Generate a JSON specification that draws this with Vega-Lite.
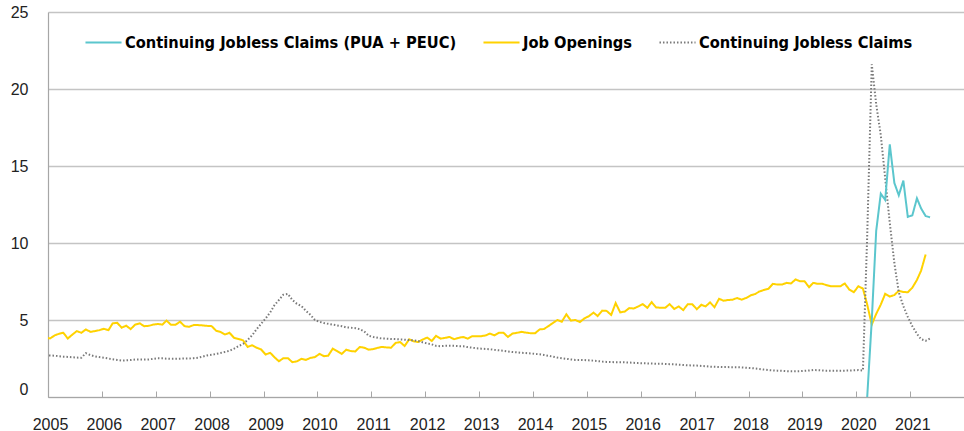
{
"$schema": "https://vega.github.io/schema/vega-lite/v6.json",
"width": 916, "height": 385,
"autosize": {"type": "none"},
"padding": {"left": 48, "top": 12, "right": 0, "bottom": 34},
"background": "white",
"config": {
  "view": {"stroke": null},
  "font": "Liberation Sans",
  "legend": {"orient": "none", "legendX": 36, "legendY": 11, "direction": "horizontal", "symbolType": "stroke", "symbolSize": 1300, "labelFont": "DejaVu Sans Condensed", "labelFontSize": 16.3, "labelFontWeight": "bold", "labelColor": "#000", "columnPadding": 22, "labelOffset": 2, "labelLimit": 0}
},
"data": {"values": [
{"date":"2004-12-15","Job Openings":3.86,"Continuing Jobless Claims":2.7},
{"date":"2005-01-15","Job Openings":3.8,"Continuing Jobless Claims":2.7},
{"date":"2005-02-15","Job Openings":4.0,"Continuing Jobless Claims":2.68},
{"date":"2005-03-15","Job Openings":4.1,"Continuing Jobless Claims":2.65},
{"date":"2005-04-15","Job Openings":4.17,"Continuing Jobless Claims":2.62},
{"date":"2005-05-15","Job Openings":3.8,"Continuing Jobless Claims":2.6},
{"date":"2005-06-15","Job Openings":4.05,"Continuing Jobless Claims":2.58},
{"date":"2005-07-15","Job Openings":4.28,"Continuing Jobless Claims":2.56},
{"date":"2005-08-15","Job Openings":4.17,"Continuing Jobless Claims":2.55},
{"date":"2005-09-15","Job Openings":4.39,"Continuing Jobless Claims":2.85},
{"date":"2005-10-15","Job Openings":4.23,"Continuing Jobless Claims":2.72},
{"date":"2005-11-15","Job Openings":4.28,"Continuing Jobless Claims":2.64},
{"date":"2005-12-15","Job Openings":4.34,"Continuing Jobless Claims":2.59},
{"date":"2006-01-15","Job Openings":4.43,"Continuing Jobless Claims":2.55},
{"date":"2006-02-15","Job Openings":4.34,"Continuing Jobless Claims":2.5},
{"date":"2006-03-15","Job Openings":4.78,"Continuing Jobless Claims":2.45},
{"date":"2006-04-15","Job Openings":4.82,"Continuing Jobless Claims":2.41},
{"date":"2006-05-15","Job Openings":4.5,"Continuing Jobless Claims":2.37},
{"date":"2006-06-15","Job Openings":4.63,"Continuing Jobless Claims":2.38},
{"date":"2006-07-15","Job Openings":4.41,"Continuing Jobless Claims":2.4},
{"date":"2006-08-15","Job Openings":4.7,"Continuing Jobless Claims":2.43},
{"date":"2006-09-15","Job Openings":4.78,"Continuing Jobless Claims":2.43},
{"date":"2006-10-15","Job Openings":4.6,"Continuing Jobless Claims":2.43},
{"date":"2006-11-15","Job Openings":4.62,"Continuing Jobless Claims":2.44},
{"date":"2006-12-15","Job Openings":4.7,"Continuing Jobless Claims":2.48},
{"date":"2007-01-15","Job Openings":4.74,"Continuing Jobless Claims":2.52},
{"date":"2007-02-15","Job Openings":4.7,"Continuing Jobless Claims":2.51},
{"date":"2007-03-15","Job Openings":4.96,"Continuing Jobless Claims":2.49},
{"date":"2007-04-15","Job Openings":4.69,"Continuing Jobless Claims":2.48},
{"date":"2007-05-15","Job Openings":4.69,"Continuing Jobless Claims":2.48},
{"date":"2007-06-15","Job Openings":4.89,"Continuing Jobless Claims":2.49},
{"date":"2007-07-15","Job Openings":4.6,"Continuing Jobless Claims":2.5},
{"date":"2007-08-15","Job Openings":4.56,"Continuing Jobless Claims":2.5},
{"date":"2007-09-15","Job Openings":4.67,"Continuing Jobless Claims":2.52},
{"date":"2007-10-15","Job Openings":4.67,"Continuing Jobless Claims":2.55},
{"date":"2007-11-15","Job Openings":4.65,"Continuing Jobless Claims":2.62},
{"date":"2007-12-15","Job Openings":4.62,"Continuing Jobless Claims":2.7},
{"date":"2008-01-15","Job Openings":4.6,"Continuing Jobless Claims":2.74},
{"date":"2008-02-15","Job Openings":4.3,"Continuing Jobless Claims":2.8},
{"date":"2008-03-15","Job Openings":4.23,"Continuing Jobless Claims":2.86},
{"date":"2008-04-15","Job Openings":4.06,"Continuing Jobless Claims":2.93},
{"date":"2008-05-15","Job Openings":4.17,"Continuing Jobless Claims":3.0},
{"date":"2008-06-15","Job Openings":3.84,"Continuing Jobless Claims":3.14},
{"date":"2008-07-15","Job Openings":3.77,"Continuing Jobless Claims":3.3},
{"date":"2008-08-15","Job Openings":3.68,"Continuing Jobless Claims":3.45},
{"date":"2008-09-15","Job Openings":3.25,"Continuing Jobless Claims":3.7},
{"date":"2008-10-15","Job Openings":3.36,"Continuing Jobless Claims":4.0},
{"date":"2008-11-15","Job Openings":3.2,"Continuing Jobless Claims":4.4},
{"date":"2008-12-15","Job Openings":3.09,"Continuing Jobless Claims":4.75},
{"date":"2009-01-15","Job Openings":2.76,"Continuing Jobless Claims":5.1},
{"date":"2009-02-15","Job Openings":2.87,"Continuing Jobless Claims":5.5},
{"date":"2009-03-15","Job Openings":2.59,"Continuing Jobless Claims":5.95},
{"date":"2009-04-15","Job Openings":2.32,"Continuing Jobless Claims":6.3},
{"date":"2009-05-15","Job Openings":2.52,"Continuing Jobless Claims":6.64},
{"date":"2009-06-15","Job Openings":2.52,"Continuing Jobless Claims":6.69},
{"date":"2009-07-15","Job Openings":2.26,"Continuing Jobless Claims":6.3},
{"date":"2009-08-15","Job Openings":2.32,"Continuing Jobless Claims":6.05},
{"date":"2009-09-15","Job Openings":2.48,"Continuing Jobless Claims":5.9},
{"date":"2009-10-15","Job Openings":2.41,"Continuing Jobless Claims":5.6},
{"date":"2009-11-15","Job Openings":2.54,"Continuing Jobless Claims":5.33},
{"date":"2009-12-15","Job Openings":2.59,"Continuing Jobless Claims":5.0},
{"date":"2010-01-15","Job Openings":2.8,"Continuing Jobless Claims":4.88},
{"date":"2010-02-15","Job Openings":2.65,"Continuing Jobless Claims":4.8},
{"date":"2010-03-15","Job Openings":2.68,"Continuing Jobless Claims":4.75},
{"date":"2010-04-15","Job Openings":3.14,"Continuing Jobless Claims":4.7},
{"date":"2010-05-15","Job Openings":2.98,"Continuing Jobless Claims":4.65},
{"date":"2010-06-15","Job Openings":2.8,"Continuing Jobless Claims":4.6},
{"date":"2010-07-15","Job Openings":3.07,"Continuing Jobless Claims":4.52},
{"date":"2010-08-15","Job Openings":2.98,"Continuing Jobless Claims":4.5},
{"date":"2010-09-15","Job Openings":2.96,"Continuing Jobless Claims":4.47},
{"date":"2010-10-15","Job Openings":3.25,"Continuing Jobless Claims":4.4},
{"date":"2010-11-15","Job Openings":3.2,"Continuing Jobless Claims":4.25},
{"date":"2010-12-15","Job Openings":3.07,"Continuing Jobless Claims":3.97},
{"date":"2011-01-15","Job Openings":3.11,"Continuing Jobless Claims":3.9},
{"date":"2011-02-15","Job Openings":3.2,"Continuing Jobless Claims":3.84},
{"date":"2011-03-15","Job Openings":3.25,"Continuing Jobless Claims":3.8},
{"date":"2011-04-15","Job Openings":3.22,"Continuing Jobless Claims":3.79},
{"date":"2011-05-15","Job Openings":3.2,"Continuing Jobless Claims":3.77},
{"date":"2011-06-15","Job Openings":3.51,"Continuing Jobless Claims":3.76},
{"date":"2011-07-15","Job Openings":3.57,"Continuing Jobless Claims":3.74},
{"date":"2011-08-15","Job Openings":3.31,"Continuing Jobless Claims":3.72},
{"date":"2011-09-15","Job Openings":3.75,"Continuing Jobless Claims":3.7},
{"date":"2011-10-15","Job Openings":3.62,"Continuing Jobless Claims":3.68},
{"date":"2011-11-15","Job Openings":3.57,"Continuing Jobless Claims":3.63},
{"date":"2011-12-15","Job Openings":3.73,"Continuing Jobless Claims":3.55},
{"date":"2012-01-15","Job Openings":3.86,"Continuing Jobless Claims":3.48},
{"date":"2012-02-15","Job Openings":3.64,"Continuing Jobless Claims":3.42},
{"date":"2012-03-15","Job Openings":3.97,"Continuing Jobless Claims":3.32},
{"date":"2012-04-15","Job Openings":3.79,"Continuing Jobless Claims":3.3},
{"date":"2012-05-15","Job Openings":3.84,"Continuing Jobless Claims":3.32},
{"date":"2012-06-15","Job Openings":3.9,"Continuing Jobless Claims":3.33},
{"date":"2012-07-15","Job Openings":3.75,"Continuing Jobless Claims":3.32},
{"date":"2012-08-15","Job Openings":3.84,"Continuing Jobless Claims":3.3},
{"date":"2012-09-15","Job Openings":3.9,"Continuing Jobless Claims":3.29},
{"date":"2012-10-15","Job Openings":3.79,"Continuing Jobless Claims":3.24},
{"date":"2012-11-15","Job Openings":3.95,"Continuing Jobless Claims":3.2},
{"date":"2012-12-15","Job Openings":3.95,"Continuing Jobless Claims":3.16},
{"date":"2013-01-15","Job Openings":3.95,"Continuing Jobless Claims":3.14},
{"date":"2013-02-15","Job Openings":4.0,"Continuing Jobless Claims":3.12},
{"date":"2013-03-15","Job Openings":4.12,"Continuing Jobless Claims":3.1},
{"date":"2013-04-15","Job Openings":4.0,"Continuing Jobless Claims":3.06},
{"date":"2013-05-15","Job Openings":4.17,"Continuing Jobless Claims":3.03},
{"date":"2013-06-15","Job Openings":4.17,"Continuing Jobless Claims":3.0},
{"date":"2013-07-15","Job Openings":3.9,"Continuing Jobless Claims":2.96},
{"date":"2013-08-15","Job Openings":4.12,"Continuing Jobless Claims":2.92},
{"date":"2013-09-15","Job Openings":4.17,"Continuing Jobless Claims":2.9},
{"date":"2013-10-15","Job Openings":4.23,"Continuing Jobless Claims":2.87},
{"date":"2013-11-15","Job Openings":4.18,"Continuing Jobless Claims":2.85},
{"date":"2013-12-15","Job Openings":4.14,"Continuing Jobless Claims":2.83},
{"date":"2014-01-15","Job Openings":4.14,"Continuing Jobless Claims":2.8},
{"date":"2014-02-15","Job Openings":4.39,"Continuing Jobless Claims":2.77},
{"date":"2014-03-15","Job Openings":4.41,"Continuing Jobless Claims":2.73},
{"date":"2014-04-15","Job Openings":4.6,"Continuing Jobless Claims":2.68},
{"date":"2014-05-15","Job Openings":4.8,"Continuing Jobless Claims":2.62},
{"date":"2014-06-15","Job Openings":5.0,"Continuing Jobless Claims":2.56},
{"date":"2014-07-15","Job Openings":4.89,"Continuing Jobless Claims":2.52},
{"date":"2014-08-15","Job Openings":5.37,"Continuing Jobless Claims":2.48},
{"date":"2014-09-15","Job Openings":4.96,"Continuing Jobless Claims":2.44},
{"date":"2014-10-15","Job Openings":5.0,"Continuing Jobless Claims":2.41},
{"date":"2014-11-15","Job Openings":4.87,"Continuing Jobless Claims":2.41},
{"date":"2014-12-15","Job Openings":5.1,"Continuing Jobless Claims":2.4},
{"date":"2015-01-15","Job Openings":5.25,"Continuing Jobless Claims":2.38},
{"date":"2015-02-15","Job Openings":5.48,"Continuing Jobless Claims":2.36},
{"date":"2015-03-15","Job Openings":5.26,"Continuing Jobless Claims":2.33},
{"date":"2015-04-15","Job Openings":5.61,"Continuing Jobless Claims":2.3},
{"date":"2015-05-15","Job Openings":5.59,"Continuing Jobless Claims":2.28},
{"date":"2015-06-15","Job Openings":5.33,"Continuing Jobless Claims":2.27},
{"date":"2015-07-15","Job Openings":6.1,"Continuing Jobless Claims":2.26},
{"date":"2015-08-15","Job Openings":5.5,"Continuing Jobless Claims":2.26},
{"date":"2015-09-15","Job Openings":5.55,"Continuing Jobless Claims":2.25},
{"date":"2015-10-15","Job Openings":5.77,"Continuing Jobless Claims":2.24},
{"date":"2015-11-15","Job Openings":5.75,"Continuing Jobless Claims":2.22},
{"date":"2015-12-15","Job Openings":5.88,"Continuing Jobless Claims":2.2},
{"date":"2016-01-15","Job Openings":6.03,"Continuing Jobless Claims":2.19},
{"date":"2016-02-15","Job Openings":5.79,"Continuing Jobless Claims":2.18},
{"date":"2016-03-15","Job Openings":6.16,"Continuing Jobless Claims":2.17},
{"date":"2016-04-15","Job Openings":5.81,"Continuing Jobless Claims":2.16},
{"date":"2016-05-15","Job Openings":5.8,"Continuing Jobless Claims":2.16},
{"date":"2016-06-15","Job Openings":5.79,"Continuing Jobless Claims":2.15},
{"date":"2016-07-15","Job Openings":6.03,"Continuing Jobless Claims":2.13},
{"date":"2016-08-15","Job Openings":5.72,"Continuing Jobless Claims":2.12},
{"date":"2016-09-15","Job Openings":5.88,"Continuing Jobless Claims":2.1},
{"date":"2016-10-15","Job Openings":5.64,"Continuing Jobless Claims":2.08},
{"date":"2016-11-15","Job Openings":6.03,"Continuing Jobless Claims":2.06},
{"date":"2016-12-15","Job Openings":6.03,"Continuing Jobless Claims":2.05},
{"date":"2017-01-15","Job Openings":5.7,"Continuing Jobless Claims":2.04},
{"date":"2017-02-15","Job Openings":5.99,"Continuing Jobless Claims":2.02},
{"date":"2017-03-15","Job Openings":5.88,"Continuing Jobless Claims":2.0},
{"date":"2017-04-15","Job Openings":6.14,"Continuing Jobless Claims":1.97},
{"date":"2017-05-15","Job Openings":5.83,"Continuing Jobless Claims":1.96},
{"date":"2017-06-15","Job Openings":6.38,"Continuing Jobless Claims":1.95},
{"date":"2017-07-15","Job Openings":6.25,"Continuing Jobless Claims":1.94},
{"date":"2017-08-15","Job Openings":6.3,"Continuing Jobless Claims":1.94},
{"date":"2017-09-15","Job Openings":6.32,"Continuing Jobless Claims":1.93},
{"date":"2017-10-15","Job Openings":6.43,"Continuing Jobless Claims":1.93},
{"date":"2017-11-15","Job Openings":6.32,"Continuing Jobless Claims":1.92},
{"date":"2017-12-15","Job Openings":6.43,"Continuing Jobless Claims":1.9},
{"date":"2018-01-15","Job Openings":6.6,"Continuing Jobless Claims":1.88},
{"date":"2018-02-15","Job Openings":6.69,"Continuing Jobless Claims":1.85},
{"date":"2018-03-15","Job Openings":6.85,"Continuing Jobless Claims":1.82},
{"date":"2018-04-15","Job Openings":6.95,"Continuing Jobless Claims":1.78},
{"date":"2018-05-15","Job Openings":7.02,"Continuing Jobless Claims":1.75},
{"date":"2018-06-15","Job Openings":7.35,"Continuing Jobless Claims":1.73},
{"date":"2018-07-15","Job Openings":7.3,"Continuing Jobless Claims":1.71},
{"date":"2018-08-15","Job Openings":7.3,"Continuing Jobless Claims":1.7},
{"date":"2018-09-15","Job Openings":7.41,"Continuing Jobless Claims":1.68},
{"date":"2018-10-15","Job Openings":7.37,"Continuing Jobless Claims":1.67},
{"date":"2018-11-15","Job Openings":7.63,"Continuing Jobless Claims":1.67},
{"date":"2018-12-15","Job Openings":7.52,"Continuing Jobless Claims":1.68},
{"date":"2019-01-15","Job Openings":7.52,"Continuing Jobless Claims":1.7},
{"date":"2019-02-15","Job Openings":7.13,"Continuing Jobless Claims":1.72},
{"date":"2019-03-15","Job Openings":7.41,"Continuing Jobless Claims":1.75},
{"date":"2019-04-15","Job Openings":7.35,"Continuing Jobless Claims":1.74},
{"date":"2019-05-15","Job Openings":7.35,"Continuing Jobless Claims":1.72},
{"date":"2019-06-15","Job Openings":7.26,"Continuing Jobless Claims":1.71},
{"date":"2019-07-15","Job Openings":7.19,"Continuing Jobless Claims":1.71},
{"date":"2019-08-15","Job Openings":7.19,"Continuing Jobless Claims":1.71},
{"date":"2019-09-15","Job Openings":7.19,"Continuing Jobless Claims":1.71},
{"date":"2019-10-15","Job Openings":7.37,"Continuing Jobless Claims":1.71},
{"date":"2019-11-15","Job Openings":6.97,"Continuing Jobless Claims":1.72},
{"date":"2019-12-15","Job Openings":6.8,"Continuing Jobless Claims":1.73},
{"date":"2020-01-15","Job Openings":7.19,"Continuing Jobless Claims":1.75},
{"date":"2020-02-15","Job Openings":7.04,"Continuing Jobless Claims":1.72},
{"date":"2020-03-15","Job Openings":6.0,"Continuing Jobless Claims":10.5,"Continuing Jobless Claims (PUA + PEUC)":0},
{"date":"2020-04-15","Job Openings":4.7,"Continuing Jobless Claims":21.6,"Continuing Jobless Claims (PUA + PEUC)":5.0},
{"date":"2020-05-15","Job Openings":5.4,"Continuing Jobless Claims":19.0,"Continuing Jobless Claims (PUA + PEUC)":10.8},
{"date":"2020-06-15","Job Openings":6.0,"Continuing Jobless Claims":17.0,"Continuing Jobless Claims (PUA + PEUC)":13.2},
{"date":"2020-07-15","Job Openings":6.7,"Continuing Jobless Claims":14.2,"Continuing Jobless Claims (PUA + PEUC)":12.8},
{"date":"2020-08-15","Job Openings":6.52,"Continuing Jobless Claims":11.3,"Continuing Jobless Claims (PUA + PEUC)":16.4},
{"date":"2020-09-15","Job Openings":6.62,"Continuing Jobless Claims":8.7,"Continuing Jobless Claims (PUA + PEUC)":13.9},
{"date":"2020-10-15","Job Openings":6.9,"Continuing Jobless Claims":6.8,"Continuing Jobless Claims (PUA + PEUC)":13.1},
{"date":"2020-11-15","Job Openings":6.82,"Continuing Jobless Claims":5.9,"Continuing Jobless Claims (PUA + PEUC)":14.05},
{"date":"2020-12-15","Job Openings":6.8,"Continuing Jobless Claims":5.2,"Continuing Jobless Claims (PUA + PEUC)":11.7},
{"date":"2021-01-15","Job Openings":7.1,"Continuing Jobless Claims":4.6,"Continuing Jobless Claims (PUA + PEUC)":11.8},
{"date":"2021-02-15","Job Openings":7.6,"Continuing Jobless Claims":4.1,"Continuing Jobless Claims (PUA + PEUC)":12.9},
{"date":"2021-03-15","Job Openings":8.2,"Continuing Jobless Claims":3.75,"Continuing Jobless Claims (PUA + PEUC)":12.25},
{"date":"2021-04-15","Job Openings":9.25,"Continuing Jobless Claims":3.65,"Continuing Jobless Claims (PUA + PEUC)":11.75},
{"date":"2021-05-15","Continuing Jobless Claims":3.8,"Continuing Jobless Claims (PUA + PEUC)":11.67}
]},
"transform": [
  {"fold": ["Job Openings", "Continuing Jobless Claims", "Continuing Jobless Claims (PUA + PEUC)"], "as": ["series", "value"]},
  {"filter": "isValid(datum.value)"}
],
"mark": {"type": "line", "clip": true},
"encoding": {
  "x": {"field": "date", "type": "temporal",
    "scale": {"type": "utc", "domain": [{"year": 2005, "month": 1, "date": 1, "utc": true}, {"year": 2021, "month": 12, "date": 31, "utc": true}]},
    "axis": {"format": "%Y", "formatType": "utc", "tickCount": {"interval": "year", "step": 1}, "grid": false, "domainColor": "#a6a6a6", "domainWidth": 1.2, "tickColor": "#a6a6a6", "tickWidth": 1, "tickSize": -6, "labelPadding": 25, "labelFontSize": 16, "labelColor": "#222", "labelFont": "Liberation Sans", "labelOffset": 2, "labelFlush": false, "labelOverlap": false, "title": null}},
  "y": {"field": "value", "type": "quantitative",
    "scale": {"domain": [0, 25]},
    "axis": {"values": [0, 5, 10, 15, 20, 25], "grid": true, "gridColor": "#c4c4c4", "gridWidth": 1.3, "ticks": false, "domainColor": "#a6a6a6", "domainWidth": 1.2, "labelPadding": 20, "labelFontSize": 16, "labelColor": "#222", "labelFont": "Liberation Sans", "title": null,
      "labelBaseline": {"condition": {"test": "datum.value === 0", "value": "bottom"}, "value": "middle"}}},
  "color": {"field": "series", "type": "nominal",
    "scale": {"domain": ["Continuing Jobless Claims (PUA + PEUC)", "Job Openings", "Continuing Jobless Claims"], "range": ["#5bc6cd", "#ffd200", "#7a7a7a"]},
    "legend": {"title": null}},
  "strokeDash": {"field": "series", "type": "nominal",
    "scale": {"domain": ["Continuing Jobless Claims (PUA + PEUC)", "Job Openings", "Continuing Jobless Claims"], "range": [[1, 0], [1, 0], [1.5, 2]]},
    "legend": {"title": null}},
  "strokeWidth": {"field": "series", "type": "nominal",
    "scale": {"domain": ["Continuing Jobless Claims (PUA + PEUC)", "Job Openings", "Continuing Jobless Claims"], "range": [2, 2, 1.5]},
    "legend": {"title": null}}
}
}
